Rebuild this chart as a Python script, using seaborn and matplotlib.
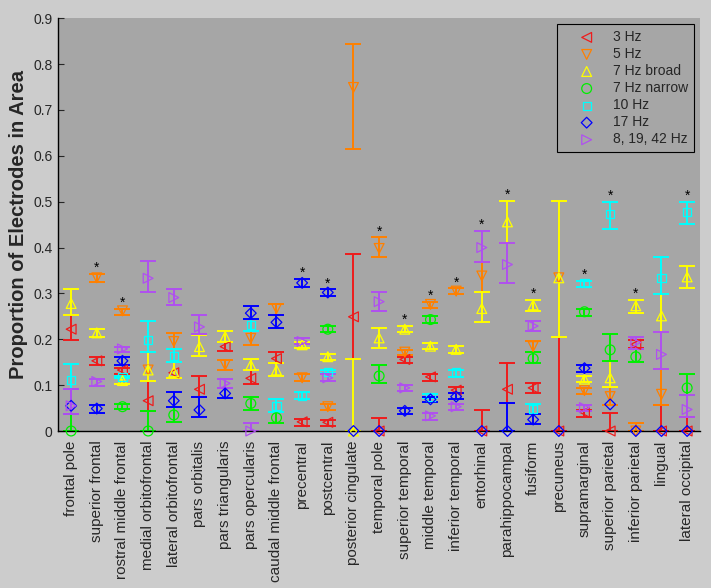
import numpy as np
import pandas as pd
import seaborn as sns
import matplotlib.pyplot as plt

nan = np.nan

regions = ["frontal pole", "superior frontal", "rostral middle frontal",
           "medial orbitofrontal", "lateral orbitofrontal", "pars orbitalis",
           "pars triangularis", "pars opercularis", "caudal middle frontal",
           "precentral", "postcentral", "posterior cingulate", "temporal pole",
           "superior temporal", "middle temporal", "inferior temporal",
           "entorhinal", "parahippocampal", "fusiform", "precuneus",
           "supramarginal", "superior parietal", "inferior parietal",
           "lingual", "lateral occipital"]

bands = ["3 Hz", "5 Hz", "7 Hz broad", "7 Hz narrow", "10 Hz", "17 Hz", "8, 19, 42 Hz"]
colors = ["#ee1c1c", "#ff8000", "#ffff00", "#00ee00", "#00ffff", "#0000ff", "#b050f0"]
markers = ["<", "v", "^", "o", "s", "D", ">"]
marker_sizes = [50, 50, 50, 50, 34, 30, 50]

# proportion of electrodes per area, with lower / upper confidence bounds
mean_3 = [0.222, 0.153, 0.133, 0.066, 0.127, 0.091, 0.184, 0.115, 0.158, 0.020, 0.019, 0.249, 0,
          0.156, 0.118, 0.089, 0, 0.091, 0.094, 0, 0.041, 0, 0.189, 0, 0]
lo_3 = [0.198, 0.144, 0.124, 0.044, 0.115, 0.075, 0.174, 0.102, 0.148, 0.012, 0.012, 0.158, 0,
        0.148, 0.110, 0.082, 0, 0.060, 0.082, 0, 0.031, 0, 0.180, 0, 0]
hi_3 = [0.254, 0.161, 0.137, 0.109, 0.150, 0.120, 0.193, 0.132, 0.173, 0.026, 0.025, 0.387, 0.028,
        0.162, 0.124, 0.097, 0.046, 0.149, 0.105, 0.206, 0.046, 0.040, 0.198, 0.057, 0.031]

mean_5 = [nan, 0.334, 0.262, 0.133, 0.195, nan, 0.144, 0.202, 0.267, 0.116, 0.053, 0.749, 0.398,
          0.172, 0.276, 0.305, 0.338, nan, 0.184, 0.334, 0.088, 0.075, 0, 0.080, nan]
lo_5 = [nan, 0.325, 0.254, 0.109, 0.178, nan, 0.133, 0.188, 0.253, 0.108, 0.046, 0.614, 0.380,
        0.166, 0.269, 0.298, 0.304, nan, 0.173, 0.206, 0.081, 0.057, 0, 0.057, nan]
hi_5 = [nan, 0.342, 0.267, 0.173, 0.213, nan, 0.155, 0.217, 0.278, 0.124, 0.059, 0.843, 0.422,
        0.177, 0.282, 0.311, 0.368, nan, 0.196, 0.502, 0.094, 0.095, 0.018, 0.135, nan]

mean_7b = [0.278, 0.214, 0.110, 0.133, 0.129, 0.184, 0.206, 0.144, 0.133, 0.188, 0.162, 0, 0.203,
           0.222, 0.185, 0.178, 0.267, 0.456, 0.275, 0.334, 0.113, 0.116, 0.273, 0.251, 0.336]
lo_7b = [0.254, 0.204, 0.102, 0.109, 0.115, 0.164, 0.193, 0.132, 0.120, 0.180, 0.155, 0, 0.182,
         0.215, 0.179, 0.171, 0.237, 0.411, 0.262, 0.206, 0.106, 0.095, 0.258, 0.215, 0.311]
hi_7b = [0.310, 0.222, 0.115, 0.173, 0.150, 0.209, 0.217, 0.158, 0.148, 0.193, 0.168, 0.158, 0.224,
         0.229, 0.191, 0.185, 0.304, 0.501, 0.286, 0.502, 0.120, 0.153, 0.286, 0.298, 0.360]

mean_7n = [0, nan, 0.053, 0, 0.035, nan, nan, 0.060, 0.029, nan, 0.222, nan, 0.120,
           nan, 0.243, nan, nan, nan, 0.158, nan, 0.260, 0.177, 0.162, nan, 0.094]
lo_7n = [0, nan, 0.048, 0, 0.020, nan, nan, 0.046, 0.018, nan, 0.216, nan, 0.105,
         nan, 0.236, nan, nan, nan, 0.149, nan, 0.251, 0.153, 0.150, nan, 0.078]
hi_7n = [0.036, nan, 0.058, 0.044, 0.053, nan, nan, 0.075, 0.042, nan, 0.229, nan, 0.145,
         nan, 0.251, nan, nan, nan, 0.173, nan, 0.267, 0.211, 0.178, nan, 0.124]

mean_10 = [0.111, nan, 0.118, 0.198, 0.164, nan, nan, 0.231, 0.055, 0.077, 0.129, nan, nan,
           nan, 0.075, 0.128, nan, nan, 0.047, nan, 0.322, 0.473, nan, 0.334, 0.478]
lo_10 = [0.091, nan, 0.115, 0.173, 0.150, nan, nan, 0.217, 0.042, 0.070, 0.126, nan, nan,
         nan, 0.071, 0.118, nan, nan, 0.037, nan, 0.313, 0.440, nan, 0.298, 0.451]
hi_10 = [0.146, nan, 0.121, 0.240, 0.178, nan, nan, 0.244, 0.069, 0.084, 0.133, nan, nan,
         nan, 0.080, 0.134, nan, nan, 0.059, nan, 0.328, 0.500, nan, 0.380, 0.500]

mean_17 = [0.055, 0.049, 0.153, nan, 0.066, 0.046, 0.082, 0.257, 0.237, 0.323, 0.302, 0, 0,
           0.044, 0.069, 0.075, 0, 0, 0.025, 0, 0.137, 0.058, 0, 0, 0]
lo_17 = [0.036, 0.039, 0.145, nan, 0.053, 0.030, 0.073, 0.244, 0.225, 0.315, 0.295, 0, 0,
         0.036, 0.063, 0.069, 0, 0, 0.015, 0, 0.128, 0.058, 0, 0, 0]
hi_17 = [0.091, 0.056, 0.161, nan, 0.084, 0.075, 0.093, 0.273, 0.253, 0.331, 0.309, 0, 0,
         0.051, 0.075, 0.082, 0, 0.060, 0.037, 0, 0.145, 0.058, 0, 0, 0]

mean_mix = [0.055, 0.108, 0.179, 0.333, 0.291, 0.227, 0.104, 0, nan, 0.195, 0.116, nan, 0.282,
            0.094, 0.033, 0.053, 0.400, 0.363, 0.229, nan, 0.051, nan, 0.193, 0.167, 0.047]
lo_mix = [0.036, 0.098, 0.173, 0.302, 0.275, 0.211, 0.093, 0, nan, 0.190, 0.108, nan, 0.262,
          0.088, 0.025, 0.046, 0.368, 0.322, 0.217, nan, 0.044, nan, 0.178, 0.135, 0.031]
hi_mix = [0.091, 0.114, 0.184, 0.371, 0.309, 0.254, 0.114, 0.018, nan, 0.202, 0.124, nan, 0.304,
          0.100, 0.040, 0.059, 0.436, 0.411, 0.240, nan, 0.057, nan, 0.206, 0.215, 0.078]

significant = ["superior frontal", "rostral middle frontal", "precentral", "postcentral",
               "temporal pole", "superior temporal", "middle temporal", "inferior temporal",
               "entorhinal", "parahippocampal", "fusiform", "supramarginal",
               "superior parietal", "inferior parietal", "lateral occipital"]


def build_frame():
    """Stack the per-band lists into one long table."""
    means = [mean_3, mean_5, mean_7b, mean_7n, mean_10, mean_17, mean_mix]
    los = [lo_3, lo_5, lo_7b, lo_7n, lo_10, lo_17, lo_mix]
    his = [hi_3, hi_5, hi_7b, hi_7n, hi_10, hi_17, hi_mix]
    parts = []
    for band, m, lo, hi in zip(bands, means, los, his):
        parts.append(pd.DataFrame({"region": regions, "x": np.arange(1, len(regions) + 1),
                                   "band": band, "mean": m, "lo": lo, "hi": hi}))
    return pd.concat(parts, ignore_index=True)


def main():
    sns.set_style("ticks")
    plt.rcParams["font.family"] = ["Liberation Sans", "DejaVu Sans"]

    df = build_frame()

    fig, ax = plt.subplots(figsize=(7.11, 5.88), dpi=100)
    fig.patch.set_facecolor("#cccccc")
    ax.set_facecolor("#a6a6a6")
    plt.subplots_adjust(left=0.082, right=0.9845, bottom=0.267, top=0.969)

    for band, color, marker, size in zip(bands, colors, markers, marker_sizes):
        sub = df[(df["band"] == band) & df["mean"].notna()]
        bars = sub[sub["hi"] > sub["lo"]]
        ax.errorbar(bars["x"], bars["mean"],
                    yerr=[bars["mean"] - bars["lo"], bars["hi"] - bars["mean"]],
                    fmt="none", ecolor=color, elinewidth=1.4, capsize=5.5, capthick=1.4,
                    zorder=2)
        sns.scatterplot(x=sub["x"], y=sub["mean"], marker=marker, s=size, color=color,
                        facecolor="none", edgecolor=color, linewidth=0.9, label=band,
                        ax=ax, zorder=3, clip_on=False, legend=False)

    # asterisks over the significant areas
    tops = df.groupby("region")["hi"].max()
    for name in significant:
        xi = regions.index(name) + 1
        ax.text(xi, tops[name] + 0.013, "*", ha="center", va="center", fontsize=10,
                color="black")

    ax.set_xlim(0.5, len(regions) + 0.5)
    ax.set_ylim(0, 0.9)
    ax.set_xticks(np.arange(1, len(regions) + 1))
    ax.set_xticklabels(regions, rotation=90, fontsize=11)
    yt = np.round(np.arange(0, 0.91, 0.1), 1)
    ax.set_yticks(yt)
    ax.set_yticklabels(["0"] + [f"{v:.1f}" for v in yt[1:]], fontsize=10)
    ax.tick_params(axis="x", length=0, pad=7)
    ax.tick_params(axis="y", direction="in", length=4, pad=4)
    ax.set_xlabel("")
    ax.set_ylabel("Proportion of Electrodes in Area", fontsize=14.5, fontweight="bold",
                  labelpad=4)

    sns.despine(ax=ax)
    for side in ["left", "bottom"]:
        ax.spines[side].set_color("black")
        ax.spines[side].set_linewidth(1)

    leg = ax.legend(loc="upper right", fontsize=10, frameon=True, fancybox=False,
                    edgecolor="black", facecolor="#a6a6a6", framealpha=1,
                    scatterpoints=1, handlelength=3.5, handletextpad=0.15,
                    labelspacing=0.22, borderpad=0.4, borderaxespad=0.45)
    leg.get_frame().set_linewidth(0.8)

    plt.savefig("out.png", dpi=100, facecolor=fig.get_facecolor())


if __name__ == "__main__":
    main()
